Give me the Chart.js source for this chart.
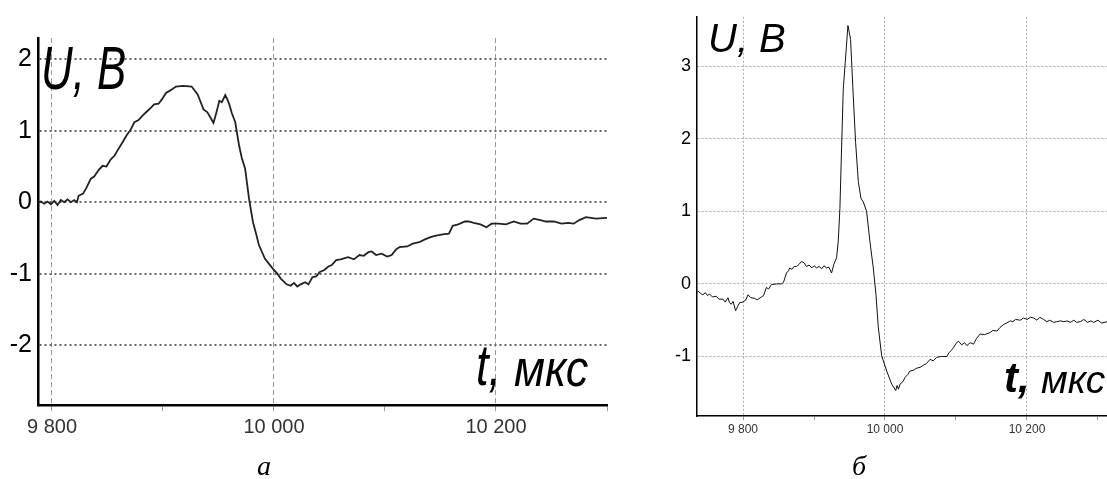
<!DOCTYPE html>
<html>
<head>
<meta charset="utf-8">
<script src="https://cdn.jsdelivr.net/npm/chart.js@4/dist/chart.umd.min.js"></script>
<style>
  html, body { margin: 0; padding: 0; background: #fff; }
  body { width: 1107px; height: 479px; position: relative; overflow: hidden; }
  canvas { position: absolute; top: 0; }
  .lbl { position: absolute; white-space: nowrap; line-height: 1; font-family: 'Liberation Sans', Arial, sans-serif; font-style: italic; color: #000; transform-origin: 0 0; }
  .cap { position: absolute; line-height: 1; font-family: 'Liberation Serif', 'Times New Roman', serif; font-style: italic; color: #000; text-align: center; width: 40px; }
</style>
</head>
<body>
<canvas id="chartA" width="620" height="479" style="left:0px"></canvas>
<canvas id="chartB" width="467" height="479" style="left:640px"></canvas>

<div class="lbl" style="left:41px; top:38px; font-size:61px; transform:scaleX(0.72);">U, B</div>
<div class="lbl" style="left:476px; top:336px; font-size:58px; transform:scaleX(0.78);">t,</div>
<div class="lbl" style="left:514px; top:342px; font-size:52px; transform:scaleX(0.87);">мкс</div>
<div class="cap" style="left:244px; top:452px; font-size:28px;">а</div>

<div class="lbl" style="left:708px; top:18px; font-size:40px;">U, B</div>
<div class="lbl" style="left:1004px; top:357px; font-size:42px; font-weight:bold;">t,</div>
<div class="lbl" style="left:1041px; top:360px; font-size:39px;">мкс</div>
<div class="cap" style="left:839px; top:452px; font-size:28px;">б</div>

<script>
// ---------- Panel "а" ----------
const tA = [9787.5,9790,9793,9796,9799,9802,9805,9808,9811,9814,9817,9820,9822.5,9824,9828,9831,9835,9838,9842,9845.6,9849,9853,9856.3,9860,9864,9867,9871,9874.2,9878,9882,9884.8,9889,9892,9896,9899,9902.7,9907,9911.6,9918,9925.8,9931.2,9934,9936.5,9940,9943,9945.5,9948,9950.8,9953,9956.1,9958,9959.7,9962,9965.1,9968.6,9971,9974,9977.5,9981.1,9984,9986.4,9991.8,9998.9,10003,10006.1,10011.4,10015,10018,10021,10024,10028,10031,10034.6,10038,10041,10045.3,10049,10052,10056,10060,10066.7,10072,10077,10080.9,10085,10088,10092,10097,10102,10106,10110,10113,10120,10125,10130.8,10136,10141,10145,10152,10157.6,10161,10166,10172,10175.4,10180,10186,10191.4,10196,10202,10209,10216,10222,10228,10234,10240,10245,10252,10259,10265,10270,10275,10281,10290,10300];
const uA = [0,0.01,-0.02,0.01,-0.03,0.02,-0.04,0.03,0,0.04,0,0.03,0,0.09,0.12,0.2,0.33,0.36,0.45,0.51,0.5,0.6,0.65,0.75,0.85,0.93,1.02,1.12,1.15,1.22,1.26,1.32,1.37,1.38,1.44,1.53,1.57,1.62,1.63,1.62,1.51,1.4,1.3,1.26,1.18,1.11,1.25,1.42,1.4,1.5,1.44,1.37,1.25,1.12,0.79,0.62,0.47,0.05,-0.28,-0.45,-0.6,-0.79,-0.93,-1.0,-1.07,-1.15,-1.17,-1.13,-1.18,-1.15,-1.12,-1.15,-1.05,-1.04,-0.98,-0.95,-0.9,-0.88,-0.81,-0.8,-0.77,-0.8,-0.74,-0.75,-0.7,-0.69,-0.74,-0.72,-0.76,-0.74,-0.66,-0.63,-0.62,-0.58,-0.56,-0.52,-0.49,-0.47,-0.45,-0.44,-0.33,-0.31,-0.27,-0.27,-0.29,-0.31,-0.35,-0.3,-0.3,-0.31,-0.27,-0.3,-0.3,-0.23,-0.25,-0.27,-0.27,-0.3,-0.29,-0.3,-0.25,-0.21,-0.23,-0.22];
const xTicksA = [9800, 9900, 10000, 10100, 10200, 10300];
const xLabeledA = [9800, 10000, 10200];
const yTicksA = [-2, -1, 0, 1, 2];
const xRangeA = [9787.4, 10300];
const yRangeA = [-2.84, 2.30];

// ---------- Panel "б" ----------
const tB = [9735.5,9737,9740,9743.5,9747,9750,9753,9757,9762.4,9766,9771.8,9775,9778.8,9781,9783.5,9786,9789.6,9793,9795.3,9800,9804,9807.1,9811,9816.5,9820,9825.9,9829,9832.9,9836,9840,9847,9854.1,9857,9861.2,9864,9865.9,9869,9872,9875.3,9879,9882.4,9886,9889.4,9893,9897,9900,9903.5,9907,9911,9914,9917.6,9921,9924.7,9928,9931.8,9934.1,9936.5,9938.8,9941.2,9944,9947.8,9951.5,9955.3,9958.6,9962.4,9966.1,9969.4,9974.1,9978.8,9983.5,9987.3,9990.6,9995.3,10002.4,10009.4,10012,10015.1,10017,10019,10021.2,10025,10028.2,10032,10035.3,10040,10045,10049.4,10054,10058,10063.5,10068,10072.9,10080,10087.1,10090,10093,10096.5,10100,10103.5,10108,10112,10115.3,10120,10124.7,10129,10134.1,10140,10148.2,10152,10157.6,10162,10167.1,10171,10176.5,10180,10184,10190.6,10195,10200,10205,10209.4,10214,10218,10223.5,10228,10232,10237.6,10242,10247,10252,10256.5,10261,10266,10270,10275.3,10280,10285,10290,10294,10300,10305,10313];
const uB = [-0.12,-0.1,-0.13,-0.15,-0.12,-0.16,-0.14,-0.18,-0.17,-0.21,-0.21,-0.25,-0.19,-0.26,-0.28,-0.24,-0.37,-0.3,-0.26,-0.25,-0.22,-0.15,-0.19,-0.2,-0.22,-0.18,-0.16,-0.05,-0.07,-0.01,0,0,0.02,0.15,0.18,0.22,0.2,0.24,0.24,0.27,0.31,0.29,0.24,0.26,0.22,0.25,0.22,0.24,0.21,0.25,0.22,0.23,0.15,0.27,0.36,0.58,1.04,1.86,2.68,3.05,3.56,3.37,2.59,1.95,1.41,1.18,1.13,1.0,0.58,0.22,-0.15,-0.6,-0.99,-1.2,-1.38,-1.42,-1.47,-1.4,-1.45,-1.38,-1.35,-1.29,-1.25,-1.2,-1.19,-1.16,-1.15,-1.12,-1.1,-1.04,-1.06,-1.01,-1.0,-1.0,-0.95,-0.92,-0.88,-0.82,-0.79,-0.84,-0.81,-0.85,-0.81,-0.83,-0.75,-0.69,-0.7,-0.67,-0.64,-0.65,-0.6,-0.56,-0.54,-0.51,-0.52,-0.49,-0.5,-0.47,-0.49,-0.46,-0.47,-0.5,-0.46,-0.49,-0.52,-0.5,-0.53,-0.52,-0.51,-0.52,-0.51,-0.53,-0.5,-0.53,-0.52,-0.49,-0.53,-0.51,-0.53,-0.5,-0.54,-0.52];
const xTicksB = [9800, 9900, 10000, 10100, 10200, 10300];
const xLabeledB = [9800, 10000, 10200];
const yTicksB = [-1, 0, 1, 2, 3];
const xRangeB = [9735.2, 10312.7];
const yRangeB = [-1.82, 3.68];

function fmt(v) {
  const s = String(Math.round(v));
  return s.length > 3 ? s.slice(0, s.length - 3) + ' ' + s.slice(-3) : s;
}
function pts(t, u) { return t.map((x, i) => ({ x: x, y: u[i] })); }

function makeChart(id, t, u, cfg) {
  return new Chart(document.getElementById(id), {
    type: 'line',
    data: { datasets: [{ data: pts(t, u), borderColor: cfg.lineColor, borderWidth: cfg.lineWidth, pointRadius: 0, tension: 0, fill: false }] },
    options: {
      responsive: false, animation: false, devicePixelRatio: 1,
      layout: { padding: cfg.padding },
      plugins: { legend: { display: false }, tooltip: { enabled: false } },
      scales: {
        x: {
          type: 'linear', min: cfg.xRange[0], max: cfg.xRange[1],
          afterBuildTicks: s => { s.ticks = cfg.xTicks.map(v => ({ value: v })); },
          afterFit: s => { s.height = cfg.xHeight; },
          border: { color: '#000', width: cfg.axisWidth, dash: cfg.vDash },
          grid: {
            color: c => (c.tick && cfg.xLabeled.includes(c.tick.value)) ? cfg.vGridColor : 'rgba(0,0,0,0)',
            lineWidth: 1, tickLength: cfg.tickLen, tickColor: cfg.tickColor, tickWidth: 1, tickBorderDash: []
          },
          ticks: {
            autoSkip: false, maxRotation: 0, padding: cfg.xPad, color: cfg.xLabelColor,
            font: { family: "'Liberation Sans', Arial, sans-serif", size: cfg.xFont },
            callback: v => cfg.xLabeled.includes(v) ? fmt(v) : ''
          }
        },
        y: {
          type: 'linear', min: cfg.yRange[0], max: cfg.yRange[1],
          afterBuildTicks: s => { s.ticks = cfg.yTicks.map(v => ({ value: v })); },
          afterFit: s => { s.width = cfg.yWidth; },
          border: { color: '#000', width: cfg.axisWidth, dash: cfg.hDash },
          grid: { color: cfg.hGridColor, lineWidth: cfg.hGridWidth, drawTicks: false },
          ticks: {
            padding: cfg.yPad, color: '#000',
            font: { family: cfg.yFamily, size: cfg.yFont },
            callback: v => String(v)
          }
        }
      }
    }
  });
}

makeChart('chartA', tA, uA, {
  lineColor: '#222', lineWidth: 1.8, padding: { left: 0, right: 13, top: 38, bottom: 0 },
  xRange: xRangeA, yRange: yRangeA, xTicks: xTicksA, xLabeled: xLabeledA, yTicks: yTicksA,
  xHeight: 74, yWidth: 38, axisWidth: 2.5,
  vGridColor: '#999', vDash: [5, 3], tickLen: 6, tickColor: '#999',
  hGridColor: '#666', hGridWidth: 2, hDash: [2, 3],
  xPad: 4, xFont: 20, xLabelColor: '#333',
  yPad: 6, yFont: 25, yFamily: "'Liberation Sans Narrow', 'Liberation Sans', Arial, sans-serif"
});

makeChart('chartB', tB, uB, {
  lineColor: '#111', lineWidth: 1, padding: { left: 0, right: 0, top: 13, bottom: 0 },
  xRange: xRangeB, yRange: yRangeB, xTicks: xTicksB, xLabeled: xLabeledB, yTicks: yTicksB,
  xHeight: 63, yWidth: 57, axisWidth: 1.5,
  vGridColor: '#aaa', vDash: [2, 2], tickLen: 4, tickColor: '#999',
  hGridColor: '#aaa', hGridWidth: 1, hDash: [2, 2],
  xPad: 2, xFont: 12, xLabelColor: '#333',
  yPad: 6, yFont: 18, yFamily: "'Liberation Sans', Arial, sans-serif"
});
</script>
</body>
</html>
